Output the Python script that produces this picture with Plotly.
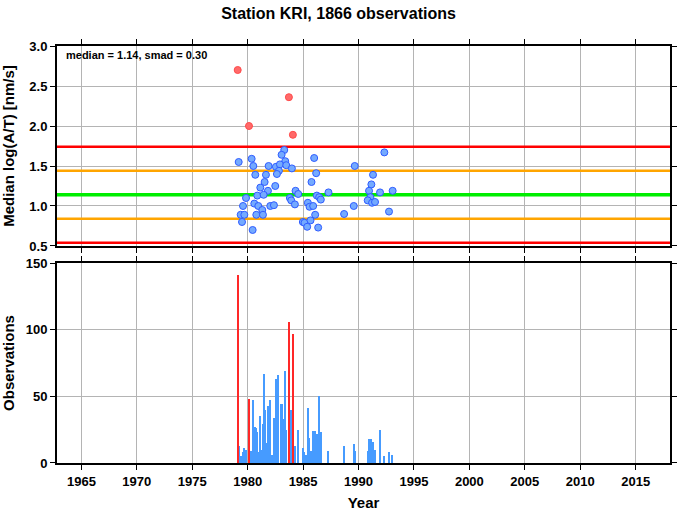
import plotly.graph_objects as go

# ---- data ----
median_val = 1.14
smad_val = 0.30

blue_years = [1979.19, 1980.36, 1980.51, 1980.69, 1983.30, 1983.06, 1983.39, 1981.89, 1982.55, 1982.91,
              1983.48, 1983.99, 1982.82, 1982.64, 1981.65, 1986.00, 1986.18, 1985.76, 1981.53, 1981.14,
              1982.49, 1981.83, 1984.32, 1984.56, 1979.85, 1980.87, 1981.44, 1983.81, 1983.93, 1984.26,
              1980.60, 1980.96, 1979.58, 1981.32, 1982.04, 1982.37, 1979.37, 1979.70, 1980.78, 1981.38,
              1979.49, 1980.45, 1986.24, 1986.45, 1986.60, 1987.29, 1985.43, 1985.58, 1985.91, 1986.09,
              1984.98, 1985.13, 1985.67, 1985.37, 1986.36, 1988.70, 1989.57, 1989.66, 1992.33, 1991.31,
              1991.16, 1990.95, 1991.07, 1990.83, 1991.22, 1991.49, 1991.94, 1993.08, 1992.75]
blue_medians = [1.55, 1.59, 1.50, 1.39, 1.70, 1.64, 1.56, 1.50, 1.49, 1.52,
                1.51, 1.47, 1.44, 1.40, 1.39, 1.60, 1.41, 1.30, 1.30, 1.23,
                1.25, 1.19, 1.19, 1.15, 1.10, 1.13, 1.14, 1.10, 1.07, 1.02,
                1.03, 1.00, 1.00, 0.95, 1.00, 1.01, 0.89, 0.89, 0.89, 0.89,
                0.80, 0.70, 1.13, 1.11, 1.08, 1.17, 1.04, 0.99, 1.00, 0.89,
                0.80, 0.79, 0.82, 0.74, 0.73, 0.90, 1.00, 1.50, 1.67, 1.39,
                1.27, 1.19, 1.11, 1.07, 1.04, 1.05, 1.17, 1.19, 0.93]

red_years = [1979.10, 1983.72, 1980.12, 1984.08]
red_medians = [2.70, 2.36, 2.00, 1.89]

bar_blue_years = [1979.19, 1979.43, 1979.55, 1979.64, 1979.82, 1980.36, 1980.45, 1980.51, 1980.66, 1980.75,
                  1980.87, 1980.99, 1981.11, 1981.23, 1981.41, 1981.53, 1981.62, 1981.80, 1981.89, 1982.01,
                  1982.25, 1982.43, 1982.61, 1982.79, 1983.03, 1983.15, 1983.27, 1983.39, 1983.51, 1983.84,
                  1983.96, 1984.17, 1984.32, 1984.59, 1984.98, 1985.10, 1985.31, 1985.43, 1985.55, 1985.73,
                  1985.94, 1986.06, 1986.15, 1986.27, 1986.42, 1986.60, 1987.29, 1988.70, 1989.57, 1989.66,
                  1990.83, 1990.95, 1991.10, 1991.22, 1991.31, 1991.49, 1991.91, 1992.33, 1992.72, 1993.08]
bar_blue_counts = [13, 5, 8, 11, 10, 9, 5, 47, 27, 26,
                   23, 8, 35, 10, 29, 67, 40, 15, 43, 47,
                   6, 34, 63, 66, 44, 44, 33, 69, 25, 18,
                   40, 9, 13, 25, 11, 8, 6, 41, 19, 9,
                   24, 24, 13, 22, 50, 23, 9, 13, 14, 9,
                   9, 18, 18, 15, 16, 10, 25, 5, 8, 6]

bar_red_years = [1979.10, 1980.12, 1983.72, 1984.08]
bar_red_counts = [141, 48, 106, 97]

year_ticks = [1965, 1970, 1975, 1980, 1985, 1990, 1995, 2000, 2005, 2010, 2015]
median_ticks = [0.5, 1.0, 1.5, 2.0, 2.5, 3.0]
count_ticks = [0, 50, 100, 150]

x_range = [1962.8, 2018.1]

FONT = "Liberation Sans, Arial, sans-serif"

fig = go.Figure()

# threshold lines (top panel)
levels = [
    (median_val + 2 * smad_val, "#ff0000", 2.5),
    (median_val - 2 * smad_val, "#ff0000", 2.5),
    (median_val + smad_val, "#ffa500", 2.5),
    (median_val - smad_val, "#ffa500", 2.5),
    (median_val, "#00ee00", 3.5),
]
for lv, col, w in levels:
    fig.add_trace(go.Scatter(x=x_range, y=[lv, lv], mode="lines",
                             line=dict(color=col, width=w), xaxis="x", yaxis="y",
                             hoverinfo="skip", showlegend=False))

fig.add_trace(go.Scatter(x=blue_years, y=blue_medians, mode="markers",
                         marker=dict(size=7, color="#74aaff", line=dict(color="#2f5cff", width=1)),
                         xaxis="x", yaxis="y", showlegend=False))
fig.add_trace(go.Scatter(x=red_years, y=red_medians, mode="markers",
                         marker=dict(size=7, color="#ff6a6a", line=dict(color="#ff4a4a", width=1)),
                         xaxis="x", yaxis="y", showlegend=False))

fig.add_trace(go.Bar(x=bar_blue_years, y=bar_blue_counts, width=0.12,
                     marker=dict(color="rgb(70,155,255)", line=dict(width=0)),
                     xaxis="x2", yaxis="y2", showlegend=False))
fig.add_trace(go.Bar(x=bar_red_years, y=bar_red_counts, width=0.12,
                     marker=dict(color="rgb(255,40,40)", line=dict(width=0)),
                     xaxis="x2", yaxis="y2", showlegend=False))

axis_common = dict(showline=True, linecolor="black", linewidth=2, mirror="ticks",
                   ticks="outside", ticklen=5, tickcolor="black", tickwidth=1,
                   showgrid=True, gridcolor="#b4b4b4", gridwidth=1, zeroline=False,
                   automargin=False,
                   tickfont=dict(family=FONT, size=13, color="black", weight="bold"))

W, H = 677, 511
fig.update_layout(
    width=W, height=H,
    margin=dict(l=57, r=7, t=46, b=48),
    paper_bgcolor="white", plot_bgcolor="white",
    bargap=0, barmode="overlay",
    title=dict(text="Station KRI, 1866 observations", x=0.5, xanchor="center",
               y=1 - 13 / H, yanchor="middle",
               font=dict(family=FONT, size=16, color="black", weight="bold")),
    xaxis=dict(domain=[0, 1], range=x_range, tickvals=year_ticks, showticklabels=False,
               anchor="y", **axis_common),
    yaxis=dict(domain=[0.5204, 1], range=[0.5, 3.0], tickvals=median_ticks, tickformat=".1f",
               anchor="x",
               title=dict(text="Median log(A/T) [nm/s]",
                          font=dict(family=FONT, size=15, color="black", weight="bold")),
               **axis_common),
    xaxis2=dict(domain=[0, 1], range=x_range, tickvals=year_ticks, anchor="y2",
                title=dict(text="Year",
                           font=dict(family=FONT, size=15, color="black", weight="bold")),
                **axis_common),
    yaxis2=dict(domain=[0, 0.4796], range=[0, 150], tickvals=count_ticks, anchor="x2",
                title=dict(text="Observations",
                           font=dict(family=FONT, size=15, color="black", weight="bold")),
                **axis_common),
    annotations=[dict(text="median = 1.14, smad = 0.30", xref="paper", yref="paper",
                      x=0.0, y=1.0, xshift=7, yshift=-1, xanchor="left", yanchor="top",
                      showarrow=False,
                      font=dict(family=FONT, size=11, color="black", weight="bold"))],
)

fig.write_html("out.html", config={"displayModeBar": False},
               post_script="document.body.style.margin='0';")
